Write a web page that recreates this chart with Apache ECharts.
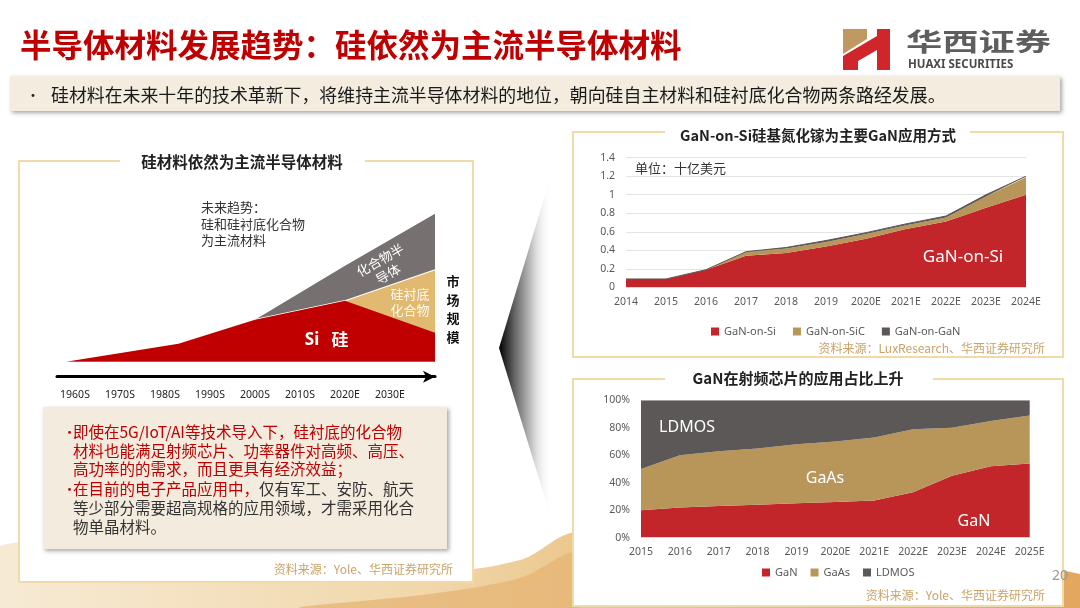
<!DOCTYPE html>
<html><head><meta charset="utf-8">
<script src="https://cdn.jsdelivr.net/npm/echarts@6/dist/echarts.min.js"></script>
<style>html,body{margin:0;padding:0;background:#fff}#c{width:1080px;height:608px}</style>
</head><body><div id="c"></div>
<script>
// ---------- data ----------
// left schematic diagram (market size, arbitrary units)
const diagramX = [1958, 1983, 2000, 2020, 2040];
const diagramSi = [0, 18, 42, 61, 29];
const diagramSiSub = [0, 0, 0, 0, 63];
const diagramCompound = [0, 0, 0, 35, 56];
const diagramTickYears = [1960, 1970, 1980, 1990, 2000, 2010, 2020, 2030];
const diagramTickLabels = ['1960S', '1970S', '1980S', '1990S', '2000S', '2010S', '2020E', '2030E'];

// GaN market by substrate (billion USD)
const marketYears = ['2014', '2015', '2016', '2017', '2018', '2019', '2020E', '2021E', '2022E', '2023E', '2024E'];
const ganOnSi  = [0.09, 0.09, 0.19, 0.34, 0.37, 0.44, 0.525, 0.63, 0.71, 0.86, 1.0];
const ganOnSiC = [0, 0, 0, 0.045, 0.05, 0.05, 0.05, 0.04, 0.045, 0.12, 0.19];
const ganOnGaN = [0, 0, 0, 0, 0.01, 0.015, 0.015, 0.015, 0.015, 0.02, 0.01];

// RF chip share (%)
const rfYears = ['2015', '2016', '2017', '2018', '2019', '2020E', '2021E', '2022E', '2023E', '2024E', '2025E'];
const rfGaN   = [20, 22, 23, 24, 25, 26, 27, 33, 45, 52, 54];
const rfGaAs  = [30, 38, 40, 41, 43, 44, 46, 46, 35, 33, 35];
const rfLDMOS = [50, 40, 37, 35, 32, 30, 27, 21, 20, 15, 11];

// ---------- helpers ----------
const CJK = '"Noto Sans CJK SC", "Noto Sans", sans-serif';
const LAT = '"Noto Sans", "Noto Sans CJK SC", sans-serif';
function txt(x, y, text, o) {
  o = o || {};
  return {
    type: 'text', x: x, y: y, z: o.z || 20, rotation: o.rotation || 0,
    scaleX: o.scaleX || 1,
    style: {
      text: text, fill: o.fill || '#333', fontSize: o.size || 12,
      fontFamily: o.family || CJK, fontWeight: o.weight || 'normal',
      align: o.align || 'left', verticalAlign: o.va || 'middle',
      lineHeight: o.lh, rich: o.rich
    }
  };
}
function pairs(xs, ys) { return xs.map((x, i) => [x, ys[i]]); }
// cumulative tops for the schematic layers (drawn as overlapping areas)
const diagSiTop = diagramSi.slice();
const diagSubTop = diagramSi.map((v, i) => v + diagramSiSub[i]);
const diagCompTop = diagSubTop.map((v, i) => v + diagramCompound[i]);

const gold = '#F2D9A8';
const srcColor = '#C9A36A';

const graphics = [
  // decorative bottom waves
  { type: 'polygon', z: -5, shape: { smooth: 0.35, points: [[0,546],[150,556],[300,566],[430,572],[520,560],[578,532],[700,556],[900,566],[1080,574],[1080,608],[0,608]] },
    style: { fill: new echarts.graphic.LinearGradient(0,0,1,0,[{offset:0,color:'#F7EBD6'},{offset:0.4,color:'#F1D7AA'},{offset:0.55,color:'#EBC68A'},{offset:1,color:'#E3A75E'}]) } },
  { type: 'polygon', z: -5, shape: { smooth: 0.3, points: [[300,608],[430,594],[520,578],[578,552],[578,608]] },
    style: { fill: '#E6B474', opacity: 0.75 } },
  // header
  txt(20, 45, '半导体材料发展趋势：硅依然为主流半导体材料', { size: 31.5, weight: 'bold', fill: '#C00000' }),
  // logo
  { type: 'polygon', z: 5, shape: { points: [[843,29],[867,29],[867,39],[843,54]] }, style: { fill: '#BE9A62' } },
  { type: 'polygon', z: 5, shape: { points: [[843,56],[877,36],[877,50],[858,61],[858,70],[843,70]] }, style: { fill: '#D0262B' } },
  { type: 'rect', z: 5, shape: { x: 877, y: 29, width: 13, height: 41 }, style: { fill: '#D0262B' } },
  txt(906, 41, '华西证券', { size: 25, weight: 'bold', fill: '#5E5E5E', scaleX: 1.45 }),
  txt(908, 65, 'HUAXI SECURITIES', { size: 11.5, weight: 'bold', fill: '#4A4A4A', family: LAT }),
  // banner
  { type: 'rect', z: 5, shape: { x: 10, y: 76, width: 1050, height: 35 },
    style: { fill: '#F3ECDF', shadowBlur: 4, shadowOffsetX: 2, shadowOffsetY: 2, shadowColor: 'rgba(0,0,0,0.35)' } },
  txt(26, 95, '•', { size: 14, fill: '#222' }),
  txt(51, 95, '硅材料在未来十年的技术革新下，将维持主流半导体材料的地位，朝向硅自主材料和硅衬底化合物两条路经发展。', { size: 17.9, fill: '#1A1A1A' }),

  // ---- left panel ----
  { type: 'rect', z: -2, shape: { x: 19, y: 161, width: 454, height: 421 }, style: { fill: '#fff' } },
  { type: 'polyline', z: 2, shape: { points: [[120,161],[19,161],[19,582],[473,582],[473,161],[365,161]] }, style: { stroke: gold, lineWidth: 2, fill: null } },
  txt(242, 162, '硅材料依然为主流半导体材料', { size: 15.5, weight: 'bold', fill: '#222', align: 'center' }),
  txt(201, 224, '未来趋势：\n硅和硅衬底化合物\n为主流材料', { size: 13, fill: '#333', lh: 16.5 }),
  txt(384, 267, '化合物半\n导体', { size: 13, fill: '#fff', align: 'center', lh: 16, rotation: 0.52 }),
  txt(410, 302, '硅衬底\n化合物', { size: 13, fill: '#FFF9F0', align: 'center', lh: 16 }),
  txt(312, 340, 'Si', { size: 17, fill: '#fff', weight: 'bold', align: 'center', family: LAT }),
  txt(340, 340, '硅', { size: 17, fill: '#fff', weight: 'bold', align: 'center' }),
  txt(453, 309, '市\n场\n规\n模', { size: 13, fill: '#111', weight: 'bold', align: 'center', lh: 18.5 }),
  { type: 'rect', z: 5, shape: { x: 43, y: 407, width: 404, height: 142 },
    style: { fill: '#F3EBDD', shadowBlur: 4, shadowOffsetX: 2, shadowOffsetY: 2, shadowColor: 'rgba(0,0,0,0.35)' } },
  txt(63, 432, '•', { size: 13, fill: '#C00000' }),
  txt(63, 489, '•', { size: 13, fill: '#C00000' }),
  txt(73, 432, '即使在5G/IoT/AI等技术导入下，硅衬底的化合物', { size: 15.5, fill: '#C00000' }),
  txt(73, 451, '材料也能满足射频芯片、功率器件对高频、高压、', { size: 15.5, fill: '#C00000' }),
  txt(73, 469.5, '高功率的的需求，而且更具有经济效益；', { size: 15.5, fill: '#C00000' }),
  txt(73, 489, '{r|在目前的电子产品应用中，}{d|仅有军工、安防、航天}', { size: 15.5,
    rich: { r: { fill: '#C00000', fontSize: 15.5, fontFamily: CJK }, d: { fill: '#333', fontSize: 15.5, fontFamily: CJK } } }),
  txt(73, 508, '等少部分需要超高规格的应用领域，才需采用化合', { size: 15.5, fill: '#333' }),
  txt(73, 527, '物单晶材料。', { size: 15.5, fill: '#333' }),
  txt(453, 569, '资料来源：Yole、华西证券研究所', { size: 12, fill: srcColor, align: 'right' }),

  // chevron
  { type: 'polygon', z: 3, shape: { points: [[499,348],[552,172],[552,521]] },
    style: { fill: new echarts.graphic.LinearGradient(0,0,1,0,[{offset:0,color:'#000'},{offset:0.3,color:'#666'},{offset:0.7,color:'#DDD'},{offset:1,color:'rgba(255,255,255,0)'}]) } },

  // ---- top-right panel ----
  { type: 'rect', z: -2, shape: { x: 573, y: 132, width: 490, height: 225 }, style: { fill: '#fff' } },
  { type: 'polyline', z: 2, shape: { points: [[665,132],[573,132],[573,357],[1063,357],[1063,132],[970,132]] }, style: { stroke: gold, lineWidth: 2, fill: null } },
  txt(818, 135, 'GaN-on-Si硅基氮化镓为主要GaN应用方式', { size: 14.5, weight: 'bold', fill: '#222', align: 'center' }),
  txt(635, 168, '单位：十亿美元', { size: 13, fill: '#333' }),
  txt(963, 257, 'GaN-on-Si', { size: 17, fill: '#fff', align: 'center', family: LAT }),
  txt(1045, 348, '资料来源：LuxResearch、华西证券研究所', { size: 12, fill: srcColor, align: 'right' }),

  // ---- bottom-right panel ----
  { type: 'rect', z: -2, shape: { x: 573, y: 379, width: 490, height: 227 }, style: { fill: '#fff' } },
  { type: 'polyline', z: 2, shape: { points: [[665,379],[573,379],[573,606],[1063,606],[1063,379],[933,379]] }, style: { stroke: gold, lineWidth: 2, fill: null } },
  txt(798, 378, 'GaN在射频芯片的应用占比上升', { size: 15, weight: 'bold', fill: '#222', align: 'center' }),
  txt(687, 427, 'LDMOS', { size: 16, fill: '#fff', align: 'center', family: LAT }),
  txt(825, 478, 'GaAs', { size: 16, fill: '#fff', align: 'center', family: LAT }),
  txt(974, 521, 'GaN', { size: 16, fill: '#fff', align: 'center', family: LAT }),
  txt(1045, 595, '资料来源：Yole、华西证券研究所', { size: 12, fill: srcColor, align: 'right' }),
  txt(1060, 576, '20', { size: 14, fill: '#999', align: 'center', family: LAT })
];

const axisLbl = { fontSize: 10.5, color: '#595959', fontFamily: LAT };
const tickMap = {};
diagramTickYears.forEach((y, i) => { tickMap[y] = diagramTickLabels[i]; });

const option = {
  animation: false,
  backgroundColor: '#fff',
  graphic: { elements: graphics },
  grid: [
    { left: 57, right: 645, top: 201.7, bottom: 246.3, outerBoundsMode: 'none' },
    { left: 626, right: 54, top: 157.7, bottom: 320.7, outerBoundsMode: 'none' },
    { left: 641, right: 50.3, top: 400.3, bottom: 70.3, outerBoundsMode: 'none' }
  ],
  xAxis: [
    { gridIndex: 0, type: 'value', min: 1956, max: 2040, interval: 2, offset: 15, z: 6,
      axisLine: { show: true, onZero: false, symbol: ['none', 'arrow'], symbolSize: [9, 12], lineStyle: { color: '#000', width: 3 } },
      axisTick: { show: false }, splitLine: { show: false },
      axisLabel: { margin: 13, fontSize: 10.5, color: '#222', fontFamily: LAT, formatter: v => tickMap[v] || '' } },
    { gridIndex: 1, type: 'category', data: marketYears, boundaryGap: false, z: 6,
      axisLine: { lineStyle: { color: '#D9D9D9' } }, axisTick: { show: false },
      axisLabel: Object.assign({ margin: 9, interval: 0 }, axisLbl) },
    { gridIndex: 2, type: 'category', data: rfYears, boundaryGap: false, z: 6,
      axisLine: { lineStyle: { color: '#D9D9D9' } }, axisTick: { show: false },
      axisLabel: Object.assign({ margin: 9, interval: 0 }, axisLbl) }
  ],
  yAxis: [
    { gridIndex: 0, type: 'value', min: 0, max: 160, show: false },
    { gridIndex: 1, type: 'value', min: 0, max: 1.4, interval: 0.2, z: 1,
      axisLine: { show: false }, axisTick: { show: false },
      splitLine: { lineStyle: { color: '#E4E4E4' } },
      axisLabel: Object.assign({ margin: 11 }, axisLbl) },
    { gridIndex: 2, type: 'value', min: 0, max: 100, interval: 20, z: 1,
      axisLine: { show: false }, axisTick: { show: false }, splitLine: { show: false },
      axisLabel: Object.assign({ margin: 11, formatter: '{value}%' }, axisLbl) }
  ],
  legend: [
    { data: ['GaN-on-Si', 'GaN-on-SiC', 'GaN-on-GaN'], left: 706, top: 321, icon: 'rect',
      itemWidth: 8, itemHeight: 8, itemGap: 17, textStyle: { fontSize: 11, color: '#595959', fontFamily: LAT } },
    { data: ['GaN', 'GaAs', 'LDMOS'], left: 757, top: 562, icon: 'rect',
      itemWidth: 8, itemHeight: 8, itemGap: 13, textStyle: { fontSize: 11, color: '#595959', fontFamily: LAT } }
  ],
  series: [
    { name: 'Compound', type: 'line', xAxisIndex: 0, yAxisIndex: 0, symbol: 'none', z: 2,
      data: pairs(diagramX, diagCompTop), lineStyle: { width: 0 }, areaStyle: { color: '#767170', opacity: 1 } },
    { name: 'SiSub', type: 'line', xAxisIndex: 0, yAxisIndex: 0, symbol: 'none', z: 3,
      data: pairs(diagramX, diagSubTop), lineStyle: { width: 1.2, color: '#fff' }, areaStyle: { color: '#E1B971', opacity: 1 } },
    { name: 'Si', type: 'line', xAxisIndex: 0, yAxisIndex: 0, symbol: 'none', z: 4,
      data: pairs(diagramX, diagSiTop), lineStyle: { width: 0 }, areaStyle: { color: '#C00000', opacity: 1 } },

    { name: 'GaN-on-Si', type: 'line', xAxisIndex: 1, yAxisIndex: 1, stack: 'm', symbol: 'none',
      data: ganOnSi, itemStyle: { color: '#C3262A' }, lineStyle: { width: 0 }, areaStyle: { color: '#C3262A', opacity: 1 } },
    { name: 'GaN-on-SiC', type: 'line', xAxisIndex: 1, yAxisIndex: 1, stack: 'm', symbol: 'none',
      data: ganOnSiC, itemStyle: { color: '#B8965A' }, lineStyle: { width: 0 }, areaStyle: { color: '#B8965A', opacity: 1 } },
    { name: 'GaN-on-GaN', type: 'line', xAxisIndex: 1, yAxisIndex: 1, stack: 'm', symbol: 'none',
      data: ganOnGaN, itemStyle: { color: '#5A5756' }, lineStyle: { width: 1, color: '#5A5756' }, areaStyle: { color: '#5A5756', opacity: 1 } },

    { name: 'GaN', type: 'line', xAxisIndex: 2, yAxisIndex: 2, stack: 'r', symbol: 'none',
      data: rfGaN, itemStyle: { color: '#C3262A' }, lineStyle: { width: 0 }, areaStyle: { color: '#C3262A', opacity: 1 } },
    { name: 'GaAs', type: 'line', xAxisIndex: 2, yAxisIndex: 2, stack: 'r', symbol: 'none',
      data: rfGaAs, itemStyle: { color: '#B8965A' }, lineStyle: { width: 0 }, areaStyle: { color: '#B8965A', opacity: 1 } },
    { name: 'LDMOS', type: 'line', xAxisIndex: 2, yAxisIndex: 2, stack: 'r', symbol: 'none',
      data: rfLDMOS, itemStyle: { color: '#5B5857' }, lineStyle: { width: 0 }, areaStyle: { color: '#5B5857', opacity: 1 } }
  ]
};
const chart = echarts.init(document.getElementById('c'), null, { renderer: 'canvas' });
chart.setOption(option);
</script></body></html>
